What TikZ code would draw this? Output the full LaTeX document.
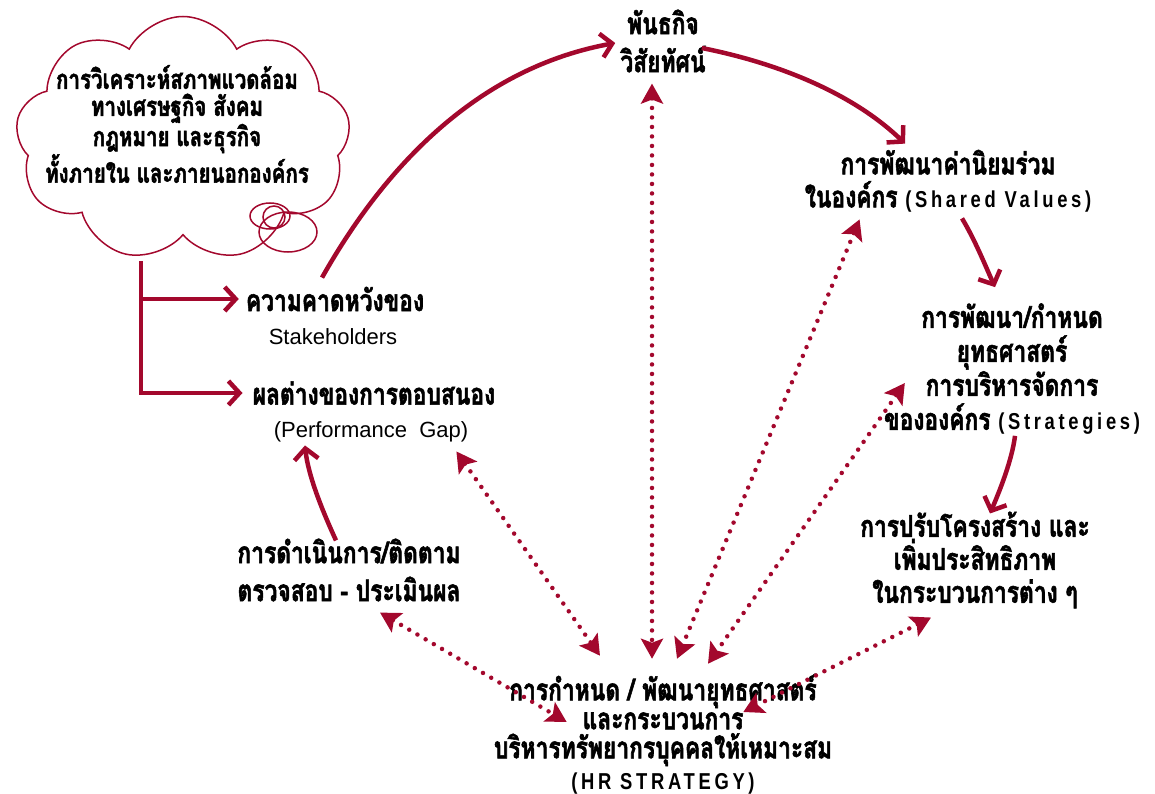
\documentclass[tikz,border=0pt]{standalone}
\usepackage{fontspec}
\setmainfont{Liberation Sans}
\newfontfamily\thaifont[Script=Thai,FakeStretch=0.76,FakeBold=1.8]{Loma}
\newfontfamily\capsfont[LetterSpace=16,FakeStretch=0.8]{Liberation Sans}
\usetikzlibrary{arrows.meta,shapes.symbols,calc}

\definecolor{ared}{RGB}{163,8,45}
\newcommand{\engb}[1]{{\capsfont\bfseries\fontsize{23}{26}\selectfont #1}}

\tikzset{
  thaitxt/.style={font=\thaifont\bfseries\fontsize{30}{#1}\selectfont, align=center, inner sep=1pt},
  thaitxt/.default=33,
  engtxt/.style={font=\fontsize{22}{24}\selectfont, inner sep=1pt},
  redarrow/.style={draw=ared, line width=4.5pt, -{Straight Barb[length=11pt,width=24pt]}},
  dotarrow/.style={draw=ared, line width=4.5pt, dash pattern=on 0pt off 9.5pt, line cap=round,
    {Stealth[length=20pt,width=22pt,inset=4pt]}-{Stealth[length=20pt,width=22pt,inset=4pt]}}
}

\begin{document}
\begin{tikzpicture}[x=1pt,y=-1pt]
\useasboundingbox (0,0) rectangle (1155,794);

% cloud with the analysis
\node[cloud, cloud puffs=9, cloud puff arc=125, cloud ignores aspect, draw=ared, line width=1.5pt,
  minimum width=335pt, minimum height=245pt] (cloud) at (183,139) {};
\node[thaitxt, font=\thaifont\bfseries\fontsize{27}{27}\selectfont] (scan) at (177,124) {การวิเคราะห์สภาพแวดล้อม\\ทางเศรษฐกิจ สังคม\\กฎหมาย และธุรกิจ\\ทั้งภายใน และภายนอกองค์กร};
\draw[ared, line width=1.5pt] (270,216) ellipse[x radius=20, y radius=13];
\draw[ared, line width=1.5pt] (274,217) circle[radius=11];
\draw[ared, line width=1.5pt] (288,232) ellipse[x radius=29, y radius=20];

% text blocks
\node[thaitxt=38] (mission) at (663,41) {พันธกิจ\\วิสัยทัศน์};
\node[thaitxt] (shared) at (948,181) {การพัฒนาค่านิยมร่วม\\ในองค์กร \engb{(Shared Values)}};
\node[thaitxt=34] (strat) at (1012,369) {การพัฒนา/กำหนด\\ยุทธศาสตร์\\การบริหารจัดการ\\ขององค์กร \engb{(Strategies)}};
\node[thaitxt] (proc) at (975,560) {การปรับโครงสร้าง และ\\เพิ่มประสิทธิภาพ\\ในกระบวนการต่าง ๆ};
\node[thaitxt=29] (hrs) at (663,734) {การกำหนด / พัฒนายุทธศาสตร์\\และกระบวนการ\\บริหารทรัพยากรบุคคลให้เหมาะสม\\[2pt]\engb{(HR STRATEGY)}};
\node[thaitxt] (expect) at (335,299) {ความคาดหวังของ};
\node[engtxt] (stake) at (333,337) {Stakeholders};
\node[thaitxt] (gap) at (374,393) {ผลต่างของการตอบสนอง};
\node[engtxt] (gapen) at (371,432) {(Performance~~Gap)};
\node[thaitxt=38] (monitor) at (349,570) {การดำเนินการ/ติดตาม\\ตรวจสอบ - ประเมินผล};

% from the cloud
\coordinate (fork) at (141,261);
\draw[redarrow] (fork) |- ($(gap.west)+(-9,0)$);
\draw[redarrow] (fork |- expect.west) -- ($(expect.west)+(-6,0)$);

% solid cycle
\draw[redarrow] ($(expect.north)+(-13,-8)$) .. controls (381,173) and (473,69) .. ($(mission.west)+(-4,2)$);
\draw[redarrow] ($(mission.east)+(-5,7)$) .. controls (792,66) and (860,100) .. ($(shared.north)+(-43,-5)$);
\draw[redarrow] ($(shared.south)+(14,5)$) .. controls (975,240) and (985,265) .. ($(strat.north)+(-17,-15)$);
\draw[redarrow] ($(strat.south)+(3,0)$) .. controls (1012,460) and (1000,490) .. ($(proc.north)+(15,3)$);
\draw[redarrow] ($(monitor.north)+(-13,3)$) .. controls (322,510) and (308,475) .. ($(gapen.south)+(-66,2)$);

% dotted links to the HR strategy
\draw[dotarrow] ($(mission.south)+(-11,10)$) -- ($(hrs.north)+(-11,-14)$);
\draw[dotarrow] ($(gapen.south east)+(-13,8)$) -- ($(hrs.north)+(-63,-17)$);
\draw[dotarrow] ($(shared.south west)+(56,6)$) -- ($(hrs.north)+(14,-14)$);
\draw[dotarrow] ($(strat.west)+(22,14)$) -- ($(hrs.north)+(45,-9)$);
\draw[dotarrow] ($(proc.south west)+(72,8)$) -- ($(hrs.east)+(-90,-22)$);
\draw[dotarrow] ($(monitor.south)+(31,10)$) -- ($(hrs.west)+(74,-12)$);
\end{tikzpicture}
\end{document}
